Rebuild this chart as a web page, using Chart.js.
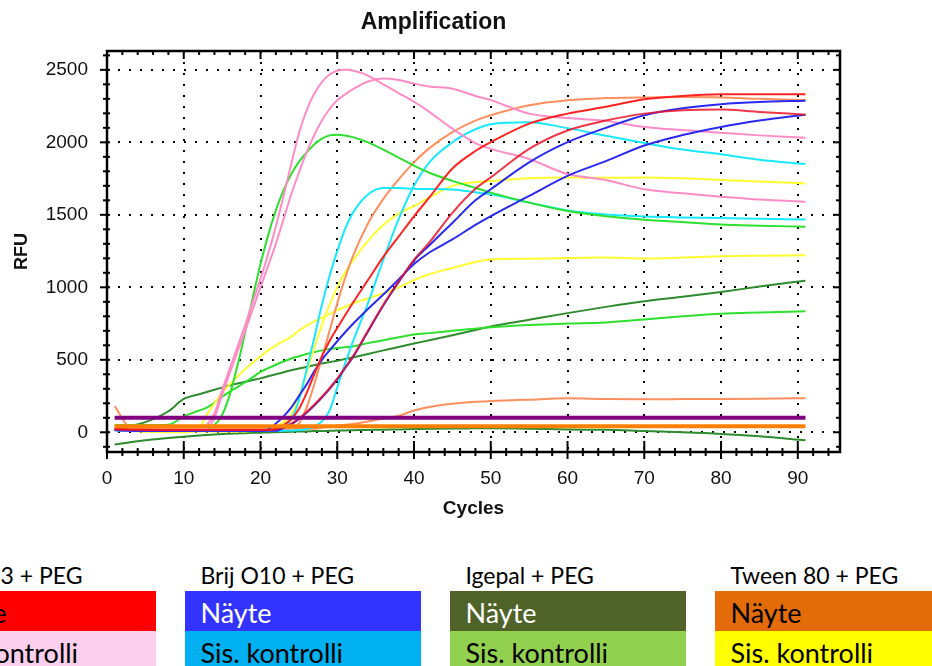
<!DOCTYPE html>
<html>
<head>
<meta charset="utf-8">
<script src="https://cdn.jsdelivr.net/npm/chart.js@4.4.1/dist/chart.umd.min.js"></script>
<style>
  html, body { margin: 0; padding: 0; background: #fff; width: 932px; height: 666px; overflow: hidden; }
  #plot { position: absolute; left: 0; top: 0; }
  .key { position: absolute; font-family: Lato, "Noto Sans", sans-serif; white-space: nowrap; line-height: 1.2; }
  .cell { position: absolute; }
</style>
</head>
<body>
<canvas id="plot" width="932" height="530"></canvas>
<div id="key"></div>
<script>
// Cycle numbers at which the curves are sampled
const cycles = [1, 3, 5, 8, 10,
  12, 13, 14, 15, 16, 17, 18, 19, 20, 21, 22, 23, 24, 25, 26, 27, 28, 29, 30, 31, 32,
  34, 36, 38, 40, 42, 45, 48, 50, 55, 60, 65, 70, 75, 80, 85, 91];

// RFU per reaction
const brijL23Sample1 = [25, 20, 18, 15, 15,
  15, 15, 15, 15, 15, 15, 15, 15, 15, 15, 25, 50, 90, 160, 270, 400, 525, 630, 720, 805, 890,
  1050, 1210, 1350, 1490, 1620, 1820, 1940, 2001, 2129, 2198, 2245, 2297, 2320, 2331, 2332, 2331];
const brijL23Sample2 = [20, 18, 15, 15, 15,
  15, 15, 15, 15, 15, 15, 15, 15, 15, 15, 20, 35, 60, 95, 140, 190, 245, 305, 370, 445, 520,
  700, 880, 1040, 1190, 1310, 1514, 1680, 1758, 1955, 2082, 2150, 2198, 2222, 2226, 2210, 2191];
const brijL23Control1 = [20, 15, 12, 10, 10,
  15, 50, 130, 290, 440, 590, 740, 900, 1060, 1230, 1420, 1630, 1850, 2060, 2220, 2335, 2415, 2468, 2494, 2500, 2495,
  2460, 2400, 2340, 2280, 2210, 2094, 1995, 1955, 1885, 1781, 1740, 1676, 1648, 1625, 1605, 1590];
const brijL23Control2 = [15, 12, 10, 10, 10,
  12, 25, 100, 260, 410, 555, 700, 850, 1000, 1150, 1300, 1470, 1640, 1790, 1930, 2050, 2150, 2230, 2290, 2330, 2365,
  2420, 2440, 2430, 2405, 2385, 2370, 2320, 2291, 2198, 2168, 2148, 2106, 2085, 2066, 2048, 2031];

const brijO10Sample1 = [15, 12, 10, 10, 10,
  10, 10, 10, 10, 10, 10, 10, 10, 10, 10, 10, 30, 55, 90, 135, 185, 240, 300, 365, 440, 515,
  695, 875, 1035, 1185, 1290, 1444, 1600, 1676, 1862, 2001, 2100, 2187, 2235, 2263, 2278, 2287];
const brijO10Sample2 = [15, 12, 10, 10, 10,
  10, 10, 10, 10, 10, 10, 10, 10, 10, 20, 60, 110, 170, 250, 330, 420, 500, 565, 628, 688, 745,
  850, 950, 1055, 1160, 1240, 1330, 1430, 1491, 1630, 1769, 1870, 1978, 2050, 2106, 2150, 2191];
const brijO10Control1 = [15, 12, 10, 8, 8,
  8, 8, 8, 8, 8, 8, 8, 8, 10, 12, 18, 35, 90, 220, 430, 650, 880, 1080, 1250, 1400, 1510,
  1640, 1685, 1685, 1680, 1678, 1675, 1655, 1641, 1584, 1530, 1502, 1488, 1482, 1478, 1473, 1468];
const brijO10Control2 = [12, 10, 8, 8, 8,
  8, 8, 8, 8, 8, 8, 8, 8, 8, 8, 8, 10, 12, 15, 22, 40, 75, 150, 310, 470, 620,
  890, 1190, 1470, 1700, 1862, 2001, 2090, 2125, 2138, 2098, 2045, 1995, 1950, 1918, 1880, 1850];

const igepalSample1 = [35, 45, 70, 145, 230,
  262, 278, 293, 308, 324, 336, 348, 360, 372, 386, 400, 414, 428, 440, 451, 463, 474, 484, 494, 505, 516,
  540, 565, 588, 612, 635, 670, 706, 730, 776, 822, 865, 904, 935, 968, 1005, 1046];
const igepalSample2 = [-85, -68, -55, -40, -30,
  -22, -19, -15, -12, -10, -8, -6, -4, -3, -1, 0, 2, 4, 5, 6, 8, 9, 10, 12, 13, 14,
  16, 18, 20, 22, 24, 26, 27, 28, 25, 19, 17, 8, 0, -11, -28, -55];
const igepalControl1 = [20, 18, 15, 12, 12,
  15, 25, 50, 120, 260, 460, 690, 930, 1160, 1360, 1530, 1670, 1780, 1865, 1930, 1985, 2025, 2048, 2052, 2047, 2036,
  2000, 1950, 1895, 1839, 1790, 1734, 1685, 1653, 1584, 1526, 1490, 1466, 1450, 1433, 1425, 1418];
const igepalControl2 = [50, 50, 50, 52, 110,
  150, 170, 205, 245, 280, 312, 345, 380, 417, 442, 466, 488, 509, 525, 540, 553, 565, 575, 582, 587, 592,
  615, 635, 655, 674, 684, 700, 715, 725, 740, 750, 758, 778, 800, 818, 826, 834];

const tween80Sample1 = [30, 20, 18, 15, 15,
  15, 15, 15, 15, 15, 15, 15, 15, 15, 15, 15, 20, 30, 60, 170, 330, 510, 700, 890, 1060, 1210,
  1440, 1610, 1745, 1862, 1960, 2071, 2150, 2187, 2256, 2291, 2305, 2310, 2312, 2310, 2300, 2292];
const tween80Sample2 = [180, 35, 28, 25, 25,
  25, 25, 25, 25, 25, 25, 25, 25, 25, 25, 25, 25, 25, 25, 25, 25, 32, 38, 46, 52, 58,
  75, 95, 115, 150, 175, 197, 210, 215, 225, 234, 230, 228, 229, 230, 232, 235];
const tween80Control1 = [20, 10, 5, 5, 5,
  5, 5, 5, 5, 5, 5, 6, 8, 12, 20, 35, 70, 120, 250, 410, 580, 740, 880, 1000, 1100, 1180,
  1320, 1430, 1510, 1560, 1620, 1700, 1725, 1734, 1753, 1758, 1755, 1758, 1752, 1741, 1730, 1716];
const tween80Control2 = [15, 10, 5, 0, 0,
  30, 120, 200, 270, 330, 385, 435, 480, 525, 565, 600, 630, 660, 700, 735, 765, 790, 815, 842, 865, 888,
  925, 957, 1000, 1050, 1090, 1133, 1175, 1191, 1197, 1202, 1205, 1198, 1205, 1214, 1218, 1221];

// Two flat traces across the whole run
const flatCycles = [1, 91];
const flatPurple = [100, 100];
const flatOrange = [42, 42];

// Axis ticks
const xTickValues = [0, 10, 20, 30, 40, 50, 60, 70, 80, 90];
const yTickValues = [0, 500, 1000, 1500, 2000, 2500];

// Key below the plot
const groupNames = ['Brij L23 + PEG', 'Brij O10 + PEG', 'Igepal + PEG', 'Tween 80 + PEG'];
const rowNames = ['Näyte', 'Sis. kontrolli'];

const RED = '#ff2222', PINK = '#ff8cc6', BLUE = '#2a2af0', CYAN = '#1ae8ff',
      DKGREEN = '#2e8b2e', LIME = '#2ee02e', SALMON = '#ff8f5e', YELLOW = '#ffff30';

const series = [
  { label: 'Igepal + PEG näyte 2', values: igepalSample2, color: DKGREEN },
  { label: 'Igepal + PEG näyte 1', values: igepalSample1, color: DKGREEN },
  { label: 'Igepal + PEG kontrolli 2', values: igepalControl2, color: LIME },
  { label: 'Tween 80 + PEG kontrolli 2', values: tween80Control2, color: YELLOW },
  { label: 'Tween 80 + PEG kontrolli 1', values: tween80Control1, color: YELLOW },
  { label: 'Tween 80 + PEG näyte 2', values: tween80Sample2, color: SALMON },
  { label: 'Tween 80 + PEG näyte 1', values: tween80Sample1, color: SALMON },
  { label: 'Brij O10 + PEG kontrolli 1', values: brijO10Control1, color: CYAN },
  { label: 'Brij O10 + PEG kontrolli 2', values: brijO10Control2, color: CYAN },
  { label: 'Igepal + PEG kontrolli 1', values: igepalControl1, color: LIME },
  { label: 'Brij L23 + PEG kontrolli 1', values: brijL23Control1, color: PINK },
  { label: 'Brij L23 + PEG kontrolli 2', values: brijL23Control2, color: PINK },
  { label: 'Brij O10 + PEG näyte 2', values: brijO10Sample2, color: BLUE },
  { label: 'Brij O10 + PEG näyte 1', values: brijO10Sample1, color: BLUE },
  { label: 'Brij L23 + PEG näyte 1', values: brijL23Sample1, color: RED },
  { label: 'Brij L23 + PEG näyte 2', values: brijL23Sample2, color: 'rgba(235,20,40,0.85)' }
];

const datasets = series.map((s, i) => ({
  label: s.label,
  data: cycles.map((c, k) => ({ x: c, y: s.values[k] })),
  borderColor: s.color,
  borderWidth: 2,
  pointRadius: 0,
  cubicInterpolationMode: 'monotone',
  order: 100 - i
}));
datasets.push({
  label: 'orange',
  data: flatCycles.map((c, k) => ({ x: c, y: flatOrange[k] })),
  borderColor: '#ff8000', borderWidth: 4, pointRadius: 0, order: 1
});
datasets.push({
  label: 'purple',
  data: flatCycles.map((c, k) => ({ x: c, y: flatPurple[k] })),
  borderColor: '#800080', borderWidth: 4, pointRadius: 0, order: 0
});

// Frame with inward/outward tick marks and the heading
const frameAndTicks = {
  id: 'frameAndTicks',
  afterDraw(chart) {
    const { ctx, chartArea: a, scales: { x, y } } = chart;
    const seg = (x1, y1, x2, y2) => { ctx.beginPath(); ctx.moveTo(x1, y1); ctx.lineTo(x2, y2); ctx.stroke(); };
    ctx.save();
    ctx.strokeStyle = '#000';
    ctx.lineWidth = 2;
    for (let v = 0; v <= x.max; v += 2) {
      const px = x.getPixelForValue(v);
      const major = v % 10 === 0;
      seg(px, a.bottom - (major ? 11 : 4), px, a.bottom + (major ? 7 : 4));
      seg(px, a.top, px, a.top + (major ? 8 : 4));
    }
    for (let v = -100; v <= y.max; v += 100) {
      const py = y.getPixelForValue(v);
      const major = v % 500 === 0;
      seg(a.left - (major ? 7 : 4), py, a.left + 3, py);
      seg(a.right - (major ? 7 : 4), py, a.right, py);
    }
    ctx.lineWidth = 2.5;
    ctx.strokeRect(a.left, a.top, a.right - a.left, a.bottom - a.top);
    ctx.fillStyle = '#111';
    ctx.font = 'bold 23px "Liberation Sans", Arial, sans-serif';
    ctx.textAlign = 'center';
    ctx.textBaseline = 'middle';
    ctx.fillText('Amplification', 433.5, 23);
    ctx.restore();
  }
};

Chart.defaults.font.family = '"Liberation Sans", Arial, sans-serif';
Chart.defaults.color = '#111';

new Chart(document.getElementById('plot'), {
  type: 'line',
  data: { datasets },
  options: {
    responsive: false,
    animation: false,
    devicePixelRatio: 1,
    layout: { padding: { left: 0, right: 92, top: 51, bottom: 0 } },
    plugins: { legend: { display: false }, tooltip: { enabled: false }, title: { display: false } },
    scales: {
      x: {
        type: 'linear',
        min: 0,
        max: 95.5,
        afterBuildTicks: (axis) => { axis.ticks = xTickValues.map(v => ({ value: v })); },
        afterFit: (axis) => { axis.height = 78; },
        ticks: { font: { size: 19 }, padding: 15, maxRotation: 0, autoSkip: false, callback: (v) => String(v) },
        grid: { color: '#000', lineWidth: 2, drawTicks: false, borderDash: [2, 9] },
        border: { display: false, dash: [2, 9] },
        title: { display: true, text: 'Cycles', font: { size: 19, weight: 'bold' }, color: '#111', padding: { top: 0, bottom: 10 } }
      },
      y: {
        type: 'linear',
        min: -136,
        max: 2630,
        afterBuildTicks: (axis) => { axis.ticks = yTickValues.map(v => ({ value: v })); },
        afterFit: (axis) => { axis.width = 107; },
        ticks: { font: { size: 19 }, padding: 19, callback: (v) => String(v) },
        grid: { color: '#000', lineWidth: 2, drawTicks: false, borderDash: [2, 9] },
        border: { display: false, dash: [2, 9] },
        title: { display: true, text: 'RFU', font: { size: 18, weight: 'bold' }, color: '#111', padding: { top: 11, bottom: 0 } }
      }
    }
  },
  plugins: [frameAndTicks]
});

// Colour key
const sampleFill = ['#ff0000', '#3333ff', '#4f6228', '#e36c09'];
const sampleInk = ['#000', '#fff', '#fff', '#000'];
const controlFill = ['#fccfee', '#00b0f0', '#92d050', '#ffff00'];
const key = document.getElementById('key');
groupNames.forEach((name, i) => {
  const left = -80 + i * 265;
  const head = document.createElement('div');
  head.className = 'key';
  head.style.cssText = `left:${left + 15.5}px;top:562px;font-size:23px;color:#000;`;
  head.textContent = name;
  key.appendChild(head);
  [[sampleFill[i], sampleInk[i], 591], [controlFill[i], '#000', 631]].forEach(([fill, ink, top], r) => {
    const box = document.createElement('div');
    box.className = 'cell';
    box.style.cssText = `left:${left}px;top:${top}px;width:236px;height:40px;background:${fill};`;
    key.appendChild(box);
    const t = document.createElement('div');
    t.className = 'key';
    t.style.cssText = `left:${left + 15.5}px;top:${top + 5.7}px;font-size:27px;color:${ink};`;
    t.textContent = rowNames[r];
    key.appendChild(t);
  });
});
</script>
</body>
</html>
